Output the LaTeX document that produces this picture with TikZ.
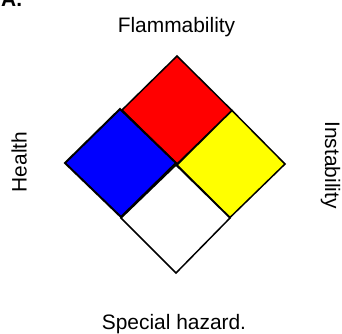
\documentclass[tikz,border=0pt]{standalone}
\usepackage{fontspec}
\setmainfont{Liberation Sans}
\definecolor{panelyellow}{RGB}{255,255,0}
\definecolor{panelred}{RGB}{255,0,0}
\definecolor{panelblue}{RGB}{0,0,255}
\begin{document}
\begin{tikzpicture}[x=1bp,y=-1bp,
  panel/.style={draw=black,line width=1.5bp,line join=miter},
  lab/.style={inner sep=0pt,font=\fontsize{21}{24}\selectfont}]
\useasboundingbox[fill=white] (0,0) rectangle (342,334);
\filldraw[panel,fill=panelred] (177,56) -- (232,110.5) -- (177,164) -- (122,110) -- cycle;
\filldraw[panel,fill=panelyellow] (232,110.5) -- (285,164) -- (230,217.5) -- (177,165) -- cycle;
\filldraw[panel,fill=white] (176,165) -- (230,218) -- (176,273) -- (121,218) -- cycle;
\filldraw[panel,fill=panelblue,line width=2bp] (120,109) -- (176,163) -- (121,217) -- (65,163) -- cycle;
\node[lab,anchor=base] (flam) at (176.5,32.5) {Flammability};
\node[lab,anchor=base,rotate=90] (health) at (26.5,162) {Health};
\node[lab,anchor=base,rotate=-90] (inst) at (325,165) {Instability};
\node[lab,anchor=base] (spec) at (174,329) {Special hazard.};
\node[lab,anchor=base west,font=\fontsize{21}{24}\selectfont\bfseries] (tag) at (1,6.5) {A.};
\end{tikzpicture}
\end{document}
